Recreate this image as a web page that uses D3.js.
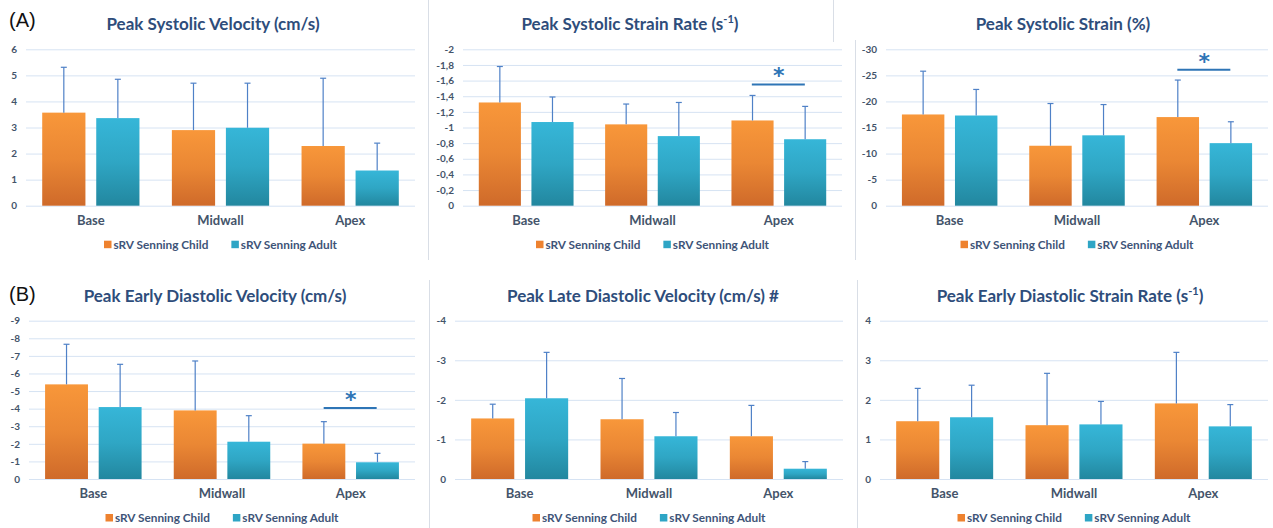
<!DOCTYPE html>
<html><head><meta charset="utf-8">
<script src="https://cdn.jsdelivr.net/npm/d3@7"></script>
<style>
html,body{margin:0;padding:0;background:#fff;}
svg{display:block;font-family:Lato,"Open Sans",sans-serif;}
</style></head>
<body>
<svg id="chart" width="1273" height="528"></svg>
<script>
// ---- data ----
const categories = ["Base", "Midwall", "Apex"];
const seriesNames = ["sRV Senning Child", "sRV Senning Adult"];

const titles = [
  "Peak Systolic Velocity (cm/s)",
  "Peak Systolic Strain Rate (s|-1|)",
  "Peak Systolic Strain (%)",
  "Peak Early Diastolic Velocity (cm/s)",
  "Peak Late Diastolic Velocity (cm/s) #",
  "Peak Early Diastolic Strain Rate (s|-1|)"
];

// mean values (child, adult) and SD (drawn upward only)
const psvChild = [3.57, 2.90, 2.29], psvChildSD = [1.74, 1.80, 2.60];
const psvAdult = [3.36, 2.99, 1.35], psvAdultSD = [1.49, 1.71, 1.05];

const pssrChild = [-1.32, -1.04, -1.09], pssrChildSD = [0.46, 0.26, 0.32];
const pssrAdult = [-1.07, -0.89, -0.85], pssrAdultSD = [0.32, 0.43, 0.42];

const pssChild = [-17.5, -11.5, -17.0], pssChildSD = [8.3, 8.1, 7.1];
const pssAdult = [-17.3, -13.5, -12.0], pssAdultSD = [5.0, 5.9, 4.1];

const pedvChild = [-5.38, -3.90, -2.01], pedvChildSD = [2.28, 2.81, 1.25];
const pedvAdult = [-4.09, -2.12, -0.95], pedvAdultSD = [2.43, 1.48, 0.51];

const pldvChild = [-1.53, -1.51, -1.08], pldvChildSD = [0.36, 1.03, 0.78];
const pldvAdult = [-2.04, -1.08, -0.26], pldvAdultSD = [1.16, 0.60, 0.18];

const pedsrChild = [1.46, 1.36, 1.91], pedsrChildSD = [0.83, 1.31, 1.29];
const pedsrAdult = [1.56, 1.38, 1.33], pedsrAdultSD = [0.81, 0.58, 0.55];

// y-axis domains (bottom value, top value) and tick steps
const yDomains = [[0, 6], [0, -2], [0, -30], [0, -9], [0, -4], [0, 4]];
const yTickSteps = [1, 0.2, 5, 1, 1, 1];

// significance markers: [category, level] or null
const significance = [null, ["Apex", -1.55], ["Apex", -26.1], ["Apex", -4.04], null, null];

const panelLabels = ["(A)", "(B)"];

// ---- layout ----
const panels = [
  {x0: 26,  x1: 415,  yT: 49.3,  yB: 205.7},
  {x0: 463, x1: 842,  yT: 49.3,  yB: 205.7},
  {x0: 886, x1: 1268, yT: 49.3,  yB: 205.7},
  {x0: 29,  x1: 415,  yT: 320.7, yB: 479},
  {x0: 455, x1: 843,  yT: 320.7, yB: 479},
  {x0: 880, x1: 1268, yT: 320.7, yB: 479}
];
const titleCenters = [213, 630, 1063, 215, 643, 1070];
const datasets = [
  [psvChild, psvChildSD, psvAdult, psvAdultSD],
  [pssrChild, pssrChildSD, pssrAdult, pssrAdultSD],
  [pssChild, pssChildSD, pssAdult, pssAdultSD],
  [pedvChild, pedvChildSD, pedvAdult, pedvAdultSD],
  [pldvChild, pldvChildSD, pldvAdult, pldvAdultSD],
  [pedsrChild, pedsrChildSD, pedsrAdult, pedsrAdultSD]
];

const svg = d3.select("#chart");
const defs = svg.append("defs");
function grad(id, top, bottom) {
  const g = defs.append("linearGradient").attr("id", id).attr("x1", 0).attr("y1", 0).attr("x2", 0).attr("y2", 1);
  g.append("stop").attr("offset", "0%").attr("stop-color", top);
  g.append("stop").attr("offset", "50%").attr("stop-color", d3.interpolateRgb(top, bottom)(0.35));
  g.append("stop").attr("offset", "100%").attr("stop-color", bottom);
}
grad("gOrange", "#F8973A", "#CF6A2A");
grad("gTeal", "#36B6D8", "#22879F");
const fills = ["url(#gOrange)", "url(#gTeal)"];
const legendColors = ["#EE822F", "#2EA5C5"];

const textBlue = "#44546A";
const titleBlue = "#2E4D7B";
const errColor = "#4F81C7";
const sigColor = "#2E75B6";
const gridColor = "#D6E3F3";
const borderColor = "#D9DEE6";

// faint frame lines of the composed figure
const frames = [
  [428.5, 0, 428.5, 260], [833.5, 0, 833.5, 42], [855.5, 40, 855.5, 260],
  [429.5, 280, 429.5, 528], [857.5, 280, 857.5, 528]
];
svg.selectAll("line.frame").data(frames).join("line").attr("class", "frame")
  .attr("x1", d => d[0]).attr("y1", d => d[1]).attr("x2", d => d[2]).attr("y2", d => d[3])
  .attr("stroke", borderColor).attr("stroke-width", 1);

// panel labels
svg.append("text").attr("x", 9).attr("y", 27).text(panelLabels[0])
  .attr("font-family", "Liberation Sans, Arial, sans-serif").attr("font-size", 20).attr("fill", "#111");
svg.append("text").attr("x", 9).attr("y", 301).text(panelLabels[1])
  .attr("font-family", "Liberation Sans, Arial, sans-serif").attr("font-size", 20).attr("fill", "#111");

function fmt(v) {
  if (Math.abs(v) < 1e-9) return "0";
  let s = d3.format("~g")(+v.toFixed(2));
  return s.replace("−", "-").replace(".", ",");
}

panels.forEach((p, i) => {
  const g = svg.append("g");
  const [cA, sA, cB, sB] = datasets[i];
  const x = d3.scaleBand().domain(categories).range([p.x0, p.x1]).padding(0);
  const xs = d3.scaleBand().domain(seriesNames).range([0, x.bandwidth()]).paddingInner(0.2).paddingOuter(0.3);
  const y = d3.scaleLinear().domain(yDomains[i]).range([p.yB, p.yT]);
  const [d0, d1] = yDomains[i];
  const ticks = d3.range(0, Math.round(Math.abs(d1) / yTickSteps[i]) + 1).map(k => Math.sign(d1) * k * yTickSteps[i]);

  // gridlines + tick labels via axis
  const axis = d3.axisLeft(y).tickValues(ticks).tickSize(-(p.x1 - p.x0)).tickPadding(9).tickFormat(fmt);
  const ag = g.append("g").attr("transform", `translate(${p.x0},0)`).call(axis);
  ag.select(".domain").remove();
  ag.selectAll(".tick line").attr("stroke", gridColor).attr("stroke-width", 1);
  ag.selectAll(".tick text").attr("fill", textBlue).attr("font-size", 10).attr("font-weight", 700)
    .attr("font-family", "Lato, sans-serif");

  // bars
  const rows = [];
  categories.forEach((c, k) => {
    rows.push({cat: c, s: 0, v: cA[k], sd: sA[k]});
    rows.push({cat: c, s: 1, v: cB[k], sd: sB[k]});
  });
  g.selectAll("rect.bar").data(rows).join("rect").attr("class", "bar")
    .attr("x", d => x(d.cat) + xs(seriesNames[d.s]))
    .attr("width", xs.bandwidth())
    .attr("y", d => Math.min(y(d.v), y(0)))
    .attr("height", d => Math.abs(y(0) - y(d.v)))
    .attr("fill", d => fills[d.s]);

  // error bars (upward only)
  const sgn = Math.sign(d1);
  const eb = g.selectAll("g.err").data(rows).join("g").attr("class", "err");
  eb.append("line")
    .attr("x1", d => x(d.cat) + xs(seriesNames[d.s]) + xs.bandwidth() / 2)
    .attr("x2", d => x(d.cat) + xs(seriesNames[d.s]) + xs.bandwidth() / 2)
    .attr("y1", d => y(d.v)).attr("y2", d => y(d.v + sgn * d.sd))
    .attr("stroke", errColor).attr("stroke-width", 1.2);
  eb.append("line")
    .attr("x1", d => x(d.cat) + xs(seriesNames[d.s]) + xs.bandwidth() / 2 - 3)
    .attr("x2", d => x(d.cat) + xs(seriesNames[d.s]) + xs.bandwidth() / 2 + 3)
    .attr("y1", d => y(d.v + sgn * d.sd)).attr("y2", d => y(d.v + sgn * d.sd))
    .attr("stroke", errColor).attr("stroke-width", 1.2);

  // category labels
  g.selectAll("text.cat").data(categories).join("text").attr("class", "cat")
    .attr("x", d => x(d) + x.bandwidth() / 2).attr("y", p.yB + 19)
    .attr("text-anchor", "middle").attr("font-size", 13).attr("font-weight", 700)
    .attr("fill", textBlue).text(d => d);

  // title (with optional superscript)
  const parts = titles[i].split("|");
  const t = g.append("text").attr("x", titleCenters[i]).attr("y", p.yT - 19)
    .attr("text-anchor", "middle").attr("font-size", 17).attr("font-weight", 700).attr("fill", titleBlue);
  t.append("tspan").text(parts[0]);
  if (parts.length > 1) {
    t.append("tspan").attr("font-size", 11).attr("dy", -7).text(parts[1]);
    t.append("tspan").attr("dy", 7).text(parts[2]);
  }

  // significance
  if (significance[i]) {
    const [cat, lvl] = significance[i];
    const cx = x(cat) + x.bandwidth() / 2;
    g.append("line").attr("x1", cx - 27).attr("x2", cx + 26).attr("y1", y(lvl)).attr("y2", y(lvl))
      .attr("stroke", sigColor).attr("stroke-width", 2);
    g.append("text").attr("x", cx).attr("y", y(lvl) - 1).attr("text-anchor", "middle")
      .attr("font-size", 22).attr("font-weight", 700).attr("fill", sigColor)
      .attr("font-family", "DejaVu Sans, sans-serif").text("*");
  }

  // legend centred on plot
  const lg = g.append("g");
  const ly = p.yB + 43;
  let cx = 0;
  seriesNames.forEach((s, k) => {
    lg.append("rect").attr("x", cx).attr("y", ly - 8).attr("width", 7.5).attr("height", 7.5).attr("fill", legendColors[k]);
    const tt = lg.append("text").attr("x", cx + 9.5).attr("y", ly).attr("font-size", 11.8).attr("font-weight", 700)
      .attr("fill", "#3E5478").text(s);
    cx += 9.5 + tt.node().getComputedTextLength() + (k === 0 ? 23 : 0);
  });
  lg.attr("transform", `translate(${(p.x0 + p.x1) / 2 - cx / 2},0)`);
});
</script>
</body></html>
